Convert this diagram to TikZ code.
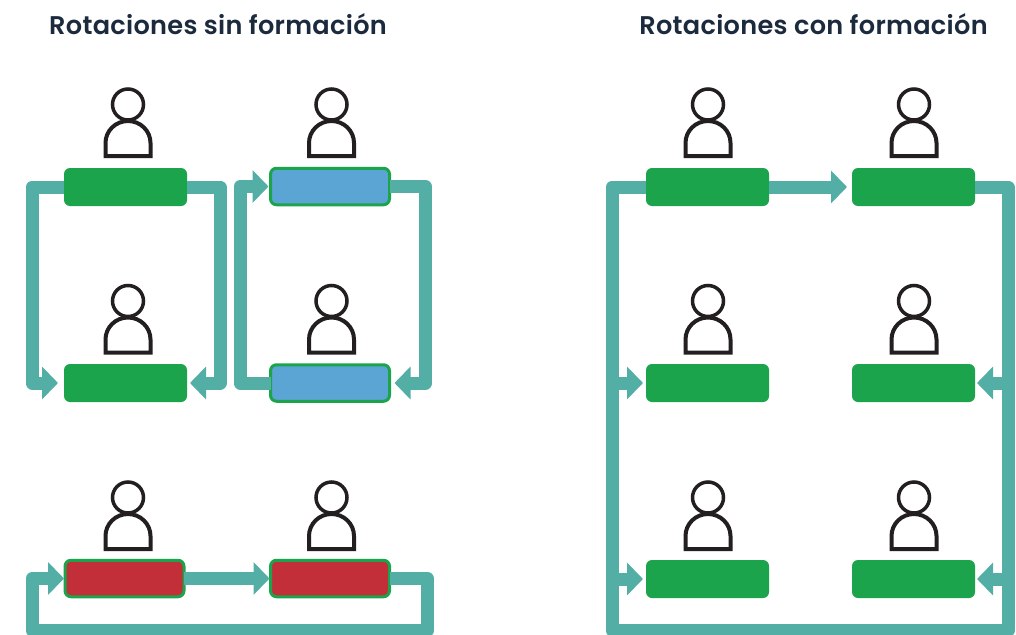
\documentclass[tikz,border=0pt]{standalone}
\usepackage{fontspec}
\setmainfont{Poppins}
\newfontfamily\titlefont{Poppins}[UprightFont=* SemiBold, LetterSpace=1.2]
\usetikzlibrary{arrows.meta}
\definecolor{flowteal}{HTML}{53AFA6}
\definecolor{boxgreen}{HTML}{1BA44C}
\definecolor{boxblue}{HTML}{5AA5D3}
\definecolor{boxred}{HTML}{C32F39}
\definecolor{titleink}{HTML}{1B2A3D}
\definecolor{personink}{HTML}{231F20}

\tikzset{
  seat/.style = {rounded corners=6pt, minimum height=#1, inner sep=0pt, outer sep=0pt},
  plain/.style = {seat=38pt, fill=boxgreen, minimum width=123pt},
  framed/.style = {seat=36.5pt, draw=boxgreen, line width=3pt, minimum width=119pt},
  bluebox/.style = {framed, fill=boxblue},
  redbox/.style = {framed, fill=boxred},
  flow/.style = {draw=flowteal, line width=13pt, line join=round},
  flowtip/.style = {flow, -{Triangle[length=16pt,width=32pt]}, shorten >=3pt},
  title/.style = {font=\titlefont\fontsize{25.6}{30}\selectfont, text=titleink},
  person/.pic = {
    \draw[personink, line width=3.5pt] (0,-52.5) circle (15.5);
    \draw[personink, line width=4pt] (-22.5,-1) -- (-22.5,-14)
      arc (180:360:22.5 and 22) -- (22.5,-1) -- cycle;
  }
}

\begin{document}
\begin{tikzpicture}[x=1pt, y=-1pt]
  \clip (0,0) rectangle (1016,634);

  \node[title] (titleleft) at (218,24.5) {Rotaciones sin formación};
  \node[title] (titleright) at (813.5,24.5) {Rotaciones con formación};

  % desks
  \foreach \name/\x/\y/\look in {
      a/125.5/187/plain,
      b/125.5/383/plain,
      c/330/186.5/bluebox,
      d/330/383/bluebox,
      e/124.5/578.5/redbox,
      f/330/578.5/redbox,
      p/707.5/187/plain,
      q/913.5/187/plain,
      r/707.5/383/plain,
      s/913.5/383/plain,
      t/707.5/579/plain,
      u/913.5/579/plain} {
      \node[\look] (\name) at (\x,\y) {};
    }

  % people
  \foreach \x/\y in {
      128/157, 331.5/157, 128/353.5, 331.5/353.5, 128/550, 331.5/550,
      708/157, 914/157, 708/353.5, 914/353.5, 708/550, 914/550} {
      \pic at (\x,\y) {person};
    }

  % rails
  \coordinate (ab) at (32,383);
  \coordinate (ba) at (220,383);
  \coordinate (dc) at (240,186.5);
  \coordinate (cd) at (425.5,383);
  \coordinate (fe) at (427.5,630.5);
  \coordinate (ef) at (32,630.5);
  \coordinate (pr) at (612,383);
  \coordinate (pt) at (612,579);
  \coordinate (qs) at (1008,383);
  \coordinate (qu) at (1008,579);
  \coordinate (ql) at (612,630.5);
  \coordinate (qr) at (1008,630.5);

  \draw[flowtip, shorten >=6pt] (a.west) -| (ab) -- (b.west);
  \draw[flowtip] (a.east) -| (ba) -- (b.east);
  \draw[flowtip, shorten >=2pt] (d.west) -| (dc) -- (c.west);
  \draw[flowtip, shorten >=5pt] (c.east) -| (cd) -- (d.east);
  \draw[flowtip, shorten >=1pt] (e.east) -- (f.west);
  \draw[flowtip, shorten >=1pt] (f.east) -| (fe) -- (ef) |- (e.west);

  \draw[flowtip, shorten >=5pt] (p.east) -- (q.west);
  \draw[flow] (p.west) -| (ql) -- (qr) |- (q.east);
  \draw[flowtip] (pr) -- (r.west);
  \draw[flowtip] (pt) -- (t.west);
  \draw[flowtip, shorten >=2pt] (qs) -- (s.east);
  \draw[flowtip, shorten >=2pt] (qu) -- (u.east);
\end{tikzpicture}
\end{document}
